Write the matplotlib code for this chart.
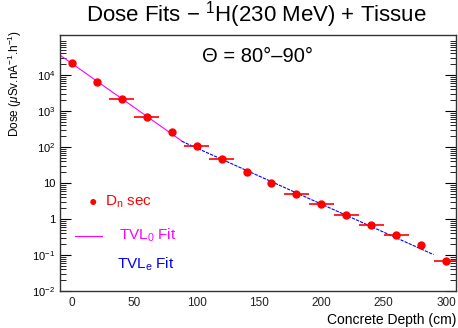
import matplotlib
matplotlib.use("Agg")
import matplotlib.pyplot as plt
import numpy as np

plt.rcParams['font.family'] = ['Liberation Sans', 'DejaVu Sans']
plt.rcParams['mathtext.fontset'] = 'custom'
plt.rcParams['mathtext.rm'] = 'Liberation Sans'
plt.rcParams['mathtext.it'] = 'Liberation Sans:italic'

# data
depth = [0, 20, 40, 60, 80, 100, 120, 140, 160, 180, 200, 220, 240, 260, 280, 300]
dose = [2.1e4, 6.5e3, 2.1e3, 695, 266, 107, 48, 20.6, 10.2, 5.0, 2.56, 1.29, 0.68, 0.35, 0.186, 0.068]
depth_err = [0, 0, 10, 10, 0, 10, 10, 0, 0, 10, 10, 10, 10, 10, 0, 10]

fit1_x = [-10, 88]
fit1_y = [3.67e4, 148]
fite_x = [88, 290]
fite_y = [145, 0.1026]

ytick_vals = [1e-2, 1e-1, 1, 10, 1e2, 1e3, 1e4]
ytick_labels = [r'$10^{-2}$', r'$10^{-1}$', '1', '10', r'$10^{2}$', r'$10^{3}$', r'$10^{4}$']
xtick_vals = [0, 50, 100, 150, 200, 250, 300]

fig = plt.figure(figsize=(4.58, 3.28), dpi=100)
ax = fig.add_axes([60/458, 37/328, 396/458, 256/328])

ax.plot(fit1_x, fit1_y, color='#ff00ff', lw=0.8, zorder=2)
ax.plot(fite_x, fite_y, color='#0000ff', lw=0.8, ls=(0, (3, 1)), zorder=2)
ax.errorbar(depth, dose, xerr=depth_err, fmt='o', color='red', ms=5,
            elinewidth=1.2, capsize=0, zorder=3, clip_on=True)

ax.set_yscale('log')
ax.set_xlim(-9.6, 308)
ax.set_ylim(1e-2, 1.3e5)
ax.set_yticks(ytick_vals)
ax.set_yticklabels(ytick_labels)
ax.set_xticks(xtick_vals)
ax.set_xticklabels([str(v) for v in xtick_vals])
ax.set_xticks([0, 200], minor=True)
ax.tick_params(axis='x', which='major', length=0, labelsize=8.5, pad=4, colors='#222222')
ax.tick_params(axis='x', which='minor', length=5, direction='in', top=True, bottom=True, width=0.8)
ax.tick_params(axis='y', which='major', length=8, direction='in', left=True, right=True,
               labelsize=8, width=0.8)
ax.tick_params(axis='y', which='minor', length=4, direction='in', left=True, right=True, width=0.6)
ax.yaxis.set_minor_locator(matplotlib.ticker.LogLocator(base=10, subs=np.arange(2, 10), numticks=20))
ax.yaxis.set_minor_formatter(matplotlib.ticker.NullFormatter())
for s in ax.spines.values():
    s.set_color('#333333')
    s.set_linewidth(1.0)

# legend
fig.text(93/458, 1-202/328, '\u25CF', color='red', fontsize=10, ha='center', va='center')
fig.text(105/458, 1-202/328, r'D$_{\mathrm{n}}$ sec', color='red', fontsize=11, ha='left', va='center')
fig.add_artist(plt.Line2D([75/458, 102/458], [1-235.5/328, 1-235.5/328], color='#ff00ff', lw=0.8))
fig.text(119/458, 1-235/328, r'TVL$_{\mathrm{0}}$ Fit', color='#ff00ff', fontsize=11, ha='left', va='center')
fig.text(117/458, 1-264/328, r'TVL$_{\mathrm{e}}$ Fit', color='#0000ff', fontsize=11, ha='left', va='center')

fig.text(258/458, 1-57/328, '\u0398 = 80\u00b0\u201390\u00b0', fontsize=14.5, ha='center', va='center')
fig.text(256/458, 1-15/328, r'Dose Fits $-$ $^{1}$H(230 MeV) + Tissue', fontsize=16,
         ha='center', va='center')
fig.text(15/458, 1-30/328, r'Dose ($\mu$Sv.nA$^{-1}$.h$^{-1}$)', fontsize=8.5, rotation=90,
         ha='center', va='top')
fig.text(456/458, 1-320/328, 'Concrete Depth (cm)', fontsize=10, ha='right', va='center')

fig.savefig('out.png', dpi=100)
